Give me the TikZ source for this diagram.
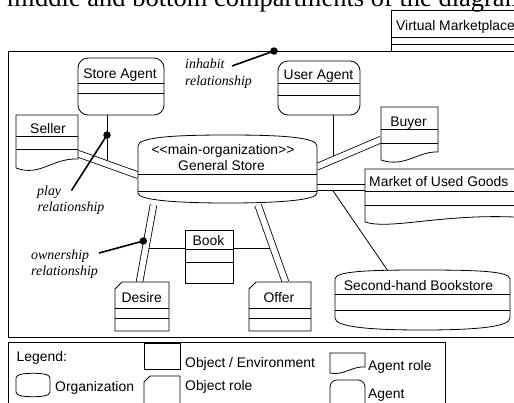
\documentclass[tikz,border=0pt]{standalone}
\usepackage{fontspec}
\setmainfont{Liberation Sans}
\newfontfamily\lserif{Liberation Serif}
\begin{document}
\begin{tikzpicture}[x=1pt,y=-1pt,
  shp/.style={draw=black, fill=white, line width=0.8pt},
  thin/.style={draw=black, line width=0.8pt},
  dbl/.style={draw=black, line width=0.8pt, double=white, double distance=5.8pt},
  pointer/.style={draw=black, line width=1.6pt},
  dotmark/.style={circle, fill=black, inner sep=0pt, minimum size=7.5pt},
  lbl/.style={inner sep=0pt, anchor=base, font=\fontsize{13.9}{16}\selectfont},
  lbll/.style={inner sep=0pt, anchor=base west, font=\fontsize{13.9}{16}\selectfont},
  note/.style={inner sep=0pt, anchor=base west, font=\fontsize{13.9}{16}\selectfont\lserif\itshape}]
\path[use as bounding box] (0,0) rectangle (514,402);
\clip (0,0) rectangle (514,402);
\fill[white] (0,0) rectangle (514,402);

% cut-off caption line at the top
\node[inner sep=0pt, anchor=base west, font=\fontsize{26.5}{30}\selectfont\lserif] (caption) at (7,6.5) {middle and bottom compartments of the diagram};

% Virtual Marketplace box (behind)
\draw[thin] (391,60) -- (391,10) -- (530,10);
\draw[thin] (391,37) -- (530,37);
\draw[thin] (391,44) -- (530,44);
\node[lbll] (vm) at (396,30) {Virtual Marketplace};

% main environment box
\draw[shp] (8,51) rectangle (530,337);

% legend box
\draw[shp] (8,342) rectangle (445,410);

% connector end points
\coordinate (sellerR) at (78,153.7);
\coordinate (gsL) at (138,175.2);
\coordinate (gsR1) at (317,166.8);
\coordinate (buyerL) at (381,139.5);
\coordinate (gsR2) at (317,187.5);
\coordinate (marketL) at (365,187.5);
\coordinate (gsB1) at (153.5,205);
\coordinate (desireT) at (139.5,282);
\coordinate (gsB2) at (258,205);
\coordinate (offerT) at (285.5,282);
\coordinate (ownR) at (149,248);
\coordinate (offL) at (270,248);
\coordinate (playJ) at (107,160.6);
\coordinate (userJ) at (333,156.4);
\coordinate (mktJ) at (333,190.8);
\coordinate (bsT) at (388,271);
\coordinate (saB) at (107,115);
\coordinate (uaB) at (333,115);
\coordinate (bookL) at (185,248);
\coordinate (bookR) at (233,248);

% double-line relationships
\draw[dbl] (sellerR) -- (gsL);
\draw[dbl] (gsR1) -- (buyerL);
\draw[dbl] (gsR2) -- (marketL);
\draw[dbl] (gsB1) -- (desireT);
\draw[dbl] (gsB2) -- (offerT);

% single lines
\draw[thin] (saB) -- (playJ);
\draw[thin] (uaB) -- (userJ);
\draw[thin] (mktJ) -- (bsT);
\draw[thin] (bookL) -- (ownR);
\draw[thin] (bookR) -- (offL);

% Store Agent
\draw[shp, rounded corners=10pt] (78,58) rectangle (164,115);
\draw[thin] (78,83) -- (164,83);
\draw[thin] (78,93) -- (164,93);
\node[lbl] (storeagent) at (120,78.5) {Store Agent};

% User Agent
\draw[shp, rounded corners=10pt] (278,61) rectangle (360,115);
\draw[thin] (278,83.3) -- (360,83.3);
\draw[thin] (278,95) -- (360,95);
\node[lbl] (useragent) at (318.5,79) {User Agent};

% Seller (agent role)
\draw[shp] (16,168) -- (16,115) -- (78,115) -- (78,159) .. controls (52,158) and (40,177) .. (16,168) -- cycle;
\draw[thin] (16,136) -- (78,136);
\draw[thin] (16,149) -- (78,149);
\node[lbl] (seller) at (48,133) {Seller};

% Buyer (agent role)
\draw[shp] (381,160) -- (381,107) -- (438,107) -- (438,152) .. controls (418,151) and (405,168) .. (381,160) -- cycle;
\draw[thin] (381,129) -- (438,129);
\draw[thin] (381,143) -- (438,143);
\node[lbl] (buyer) at (408.5,126.5) {Buyer};

% Market of Used Goods (agent role)
\draw[shp] (530,169) -- (365,169) -- (365,222) .. controls (390,230) and (440,214) .. (514,217) -- (530,217);
\draw[thin] (365,191.7) -- (530,191.7);
\draw[thin] (365,205) -- (530,205);
\node[lbll] (market) at (369,186) {Market of Used Goods};

% General Store (organization)
\draw[shp] (138,193) -- (138,146) .. controls (138,137) and (175,135) .. (227.5,135)
  .. controls (280,135) and (317,137) .. (317,146) -- (317,193)
  .. controls (317,200) and (280,203) .. (227.5,203)
  .. controls (175,203) and (138,200) .. (138,193) -- cycle;
\draw[thin] (138,174) -- (317,174);
\draw[thin] (138,191) -- (317,191);
\node[lbl] (gsstereo) at (223,154.5) {<{}<main-organization>{}>};
\node[lbl] (gs) at (221.5,170) {General Store};

% Second-hand Bookstore (organization)
\draw[shp] (335,318) -- (335,279) .. controls (335,271) and (370,270) .. (422.5,270)
  .. controls (475,270) and (510,271) .. (510,279) -- (510,318)
  .. controls (510,327) and (475,330) .. (422.5,330)
  .. controls (370,330) and (335,327) .. (335,318) -- cycle;
\draw[thin] (335,294) -- (510,294);
\draw[thin] (335,310) -- (510,310);
\node[lbl] (bookstore) at (418.5,290) {Second-hand Bookstore};

% Book (object)
\draw[shp] (185,230) rectangle (233,283);
\draw[thin] (185,249) -- (233,249);
\draw[thin] (185,262) -- (233,262);
\node[lbl] (book) at (208.5,245.5) {Book};

% Desire (object role)
\draw[shp] (115,289) -- (122,282) -- (169,282) -- (169,331) -- (115,331) -- cycle;
\draw[thin] (115,308) -- (169,308);
\draw[thin] (115,318) -- (169,318);
\node[lbl] (desire) at (141.7,302) {Desire};

% Offer (object role)
\draw[shp] (249,289) -- (256,282) -- (311,282) -- (311,331) -- (249,331) -- cycle;
\draw[thin] (249,308) -- (311,308);
\draw[thin] (249,318) -- (311,318);
\node[lbl] (offer) at (279,302) {Offer};

% relationship annotations
\node[dotmark] (inhabitdot) at (274,51) {};
\coordinate (inhabitend) at (232,66);
\draw[pointer] (inhabitdot.center) -- (inhabitend);
\node[note] (inhabit1) at (185,68) {inhabit};
\node[note] (inhabit2) at (185,85) {relationship};

\node[dotmark] (playdot) at (107,135) {};
\coordinate (playend) at (71.5,190.5);
\draw[pointer] (playdot.center) -- (playend);
\node[note] (play1) at (37,195.5) {play};
\node[note] (play2) at (37.5,211) {relationship};

\node[dotmark] (owndot) at (143.3,241) {};
\coordinate (ownend) at (99,253);
\draw[pointer] (owndot.center) -- (ownend);
\node[note] (own1) at (31,259) {ownership};
\node[note] (own2) at (31,275) {relationship};

% legend
\node[lbll] (legend) at (16.5,361.5) {Legend:};
\draw[shp] (144,343) rectangle (180,369);
\node[lbll] (legoe) at (185,367) {Object / Environment};
\draw[shp] (16,392) -- (16,378) .. controls (16,374) and (25,373.3) .. (33,373.3)
  .. controls (41,373.3) and (50,374) .. (50,378) -- (50,392)
  .. controls (50,396) and (41,396.7) .. (33,396.7)
  .. controls (25,396.7) and (16,396) .. (16,392) -- cycle;
\node[lbll] (legorg) at (55,391.5) {Organization};
\draw[shp] (144,382) -- (150,376) -- (180,376) -- (180,410) -- (144,410) -- cycle;
\node[lbll] (legor) at (185,390.5) {Object role};
\draw[shp] (330,373) -- (330,353) -- (365,353) -- (365,367) .. controls (352,366) and (343,376) .. (330,373) -- cycle;
\node[lbll] (legar) at (368,370.5) {Agent role};
\draw[shp, rounded corners=7pt] (330,380) rectangle (365,412);
\node[lbll] (legag) at (368,398) {Agent};
\end{tikzpicture}
\end{document}
